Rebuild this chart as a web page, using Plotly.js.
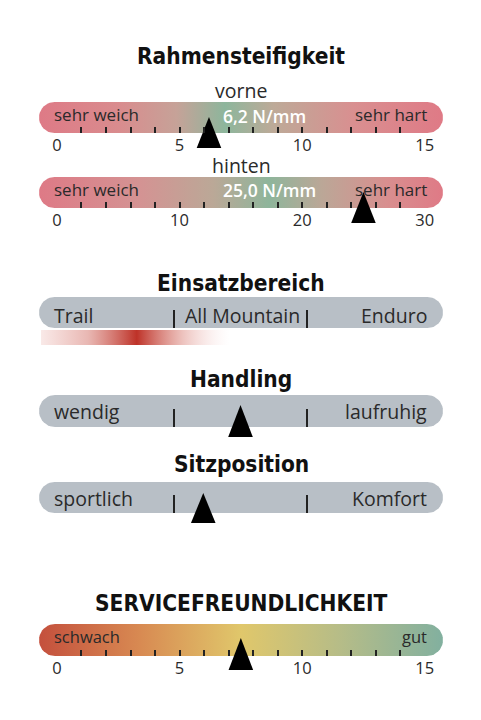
<!DOCTYPE html>
<html><head><meta charset="utf-8">
<script src="https://cdn.plot.ly/plotly-3.0.1.min.js"></script>
<style>html,body{margin:0;padding:0;background:#fff}</style>
</head><body><div id="chart" style="width:481px;height:720px"></div>
<script>
// ---------- data ----------
const stiffnessParts = ['vorne', 'hinten'];
const stiffnessValues = [6.2, 25.0];          // N/mm
const stiffnessMax = [15, 30];
const stiffnessMajor = [5, 10];
const stiffnessMinor = [1, 2];
const stiffnessEnds = ['sehr weich', 'sehr hart'];
const stiffnessUnit = 'N/mm';

const useCategories = ['Trail', 'All Mountain', 'Enduro'];
const useGlow = [0, 0.72, 1.42];             // start, peak, end on the category scale (0..3)

const handlingEnds = ['wendig', 'laufruhig'];
const handlingValue = [1.5];                 // on 0..3 scale
const seatEnds = ['sportlich', 'Komfort'];
const seatValue = [1.22];                    // on 0..3 scale

const serviceEnds = ['schwach', 'gut'];
const serviceValue = [7.5];
const serviceMax = 15;

const titles = ['Rahmensteifigkeit', 'Einsatzbereich', 'Handling', 'Sitzposition', 'SERVICEFREUNDLICHKEIT'];

// ---------- layout geometry ----------
const W = 481, H = 720;
const BAR_X0 = 39, BAR_X1 = 443;
const SCALE15 = [56.7, 425];     // pixel span of numeric scales
const CAT = [41, 440];           // pixel span of 3-zone scales
const TITLE_FONT = 'Liberation Sans Narrow, DejaVu Sans Condensed, sans-serif';
const BODY_FONT = 'Open Sans, Liberation Sans, sans-serif';
const TXT = '#2a2a2a';

function pill(x0, x1, y0, y1) {
  const r = (y1 - y0) / 2, cy = (y0 + y1) / 2, n = 20;
  const xs = [], ys = [];
  for (let i = 0; i <= n; i++) { const a = -Math.PI / 2 + Math.PI * i / n; xs.push(x1 - r + r * Math.cos(a)); ys.push(cy + r * Math.sin(a)); }
  for (let i = 0; i <= n; i++) { const a = Math.PI / 2 + Math.PI * i / n; xs.push(x0 + r + r * Math.cos(a)); ys.push(cy + r * Math.sin(a)); }
  xs.push(xs[0]); ys.push(ys[0]);
  return { xs, ys };
}
function barTrace(y0, y1, fill) {
  const p = pill(BAR_X0, BAR_X1, y0, y1);
  const t = { type: 'scatter', mode: 'lines', x: p.xs, y: p.ys, xaxis: 'x', yaxis: 'y', fill: 'toself',
    line: { width: 0 }, hoverinfo: 'skip', showlegend: false };
  if (Array.isArray(fill)) t.fillgradient = { type: 'horizontal', colorscale: fill };
  else t.fillcolor = fill;
  return t;
}
function triangle(axisId, value, pxSpan, range, apexY, baseY) {
  const unitsPerPx = (range[1] - range[0]) / (pxSpan[1] - pxSpan[0]);
  const hw = 12.3 * unitsPerPx;
  return { type: 'scatter', mode: 'lines', xaxis: axisId, yaxis: 'y',
    x: [value - hw, value, value + hw, value - hw], y: [baseY, apexY, baseY, baseY],
    fill: 'toself', fillcolor: '#000', line: { width: 0 }, hoverinfo: 'skip', showlegend: false };
}
function scaleAxis(pxSpan, range, bottomPx, extra) {
  return Object.assign({
    domain: [pxSpan[0] / W, pxSpan[1] / W], range: range, anchor: 'free', position: 1 - bottomPx / H,
    showgrid: false, zeroline: false, showline: false, ticks: 'inside', tickcolor: '#222', tickwidth: 2,
    fixedrange: true, tickfont: { family: BODY_FONT, size: 16.5, color: TXT }
  }, extra);
}

const stiffGradFront = [[0, '#de7a86'], [0.2, '#d98c8e'], [0.34, '#c6a298'], [0.46, '#8db69c'], [0.58, '#bdaa98'], [0.78, '#d98f90'], [1, '#df7a86']];
const stiffGradRear = [[0, '#de7a86'], [0.25, '#d49393'], [0.43, '#bba897'], [0.57, '#8eb59b'], [0.7, '#bba797'], [0.86, '#d88f8f'], [1, '#df7a86']];
const serviceGrad = [[0, '#c4503d'], [0.25, '#d88a52'], [0.5, '#e0c76b'], [0.75, '#b5bc88'], [1, '#82b09f']];
const GRAY = '#b8bfc6';

const r15 = [-0.01, serviceMax + 0.01];
const rRear = [-0.02, stiffnessMax[1] + 0.02];
const rCat = [0, 3];

const traces = [
  barTrace(102, 133, stiffGradFront),
  barTrace(177, 208, stiffGradRear),
  barTrace(297, 328, GRAY),
  barTrace(395, 427, GRAY),
  barTrace(482, 513, GRAY),
  barTrace(624, 656, serviceGrad),
  // usage glow
  { type: 'scatter', mode: 'lines', xaxis: 'x4', yaxis: 'y',
    x: [useGlow[0], useGlow[2], useGlow[2], useGlow[0], useGlow[0]], y: [330, 330, 345, 345, 330],
    fill: 'toself', line: { width: 0 }, hoverinfo: 'skip', showlegend: false,
    fillgradient: { type: 'horizontal', colorscale: [
      [0, 'rgba(215,110,100,0.15)'], [0.25, 'rgba(205,95,85,0.45)'],
      [(useGlow[1] - useGlow[0]) / (useGlow[2] - useGlow[0]), 'rgba(190,50,40,1)'],
      [0.75, 'rgba(215,120,110,0.45)'], [1, 'rgba(245,210,210,0)']] } },
  triangle('x2', stiffnessValues[0], SCALE15, [0, stiffnessMax[0]], 117, 148),
  triangle('x3', stiffnessValues[1], SCALE15, [0, stiffnessMax[1]], 192, 223),
  triangle('x5', handlingValue[0], CAT, rCat, 405, 437),
  triangle('x6', seatValue[0], CAT, rCat, 493, 523),
  triangle('x7', serviceValue[0], SCALE15, [0, serviceMax], 638, 670)
];

function ann(text, x, y, xanchor, size, opts) {
  return Object.assign({ text: text, x: x, y: y, xref: 'x', yref: 'y', xanchor: xanchor, yanchor: 'middle',
    showarrow: false, font: { family: BODY_FONT, size: size, color: TXT } }, opts || {});
}
function titleAnn(text, y) {
  return ann(text, 241, y, 'center', 22.5, { font: { family: TITLE_FONT, size: 22.5, color: '#111', weight: 700 } });
}
const fmt = v => v.toFixed(1).replace('.', ',') + ' ' + stiffnessUnit;
const white = size => ({ font: { family: BODY_FONT, size: size, color: '#fff', weight: 600 } });

const annotations = [
  titleAnn(titles[0], 56),
  ann(stiffnessParts[0], 241, 90, 'center', 19.5),
  ann(stiffnessEnds[0], 52, 114.5, 'left', 17),
  ann(stiffnessEnds[1], 429, 114.5, 'right', 17),
  ann(fmt(stiffnessValues[0]), 264, 115.5, 'center', 17.5, white(17.5)),
  ann(stiffnessParts[1], 241, 165, 'center', 19.5),
  ann(stiffnessEnds[0], 52, 189.5, 'left', 17),
  ann(stiffnessEnds[1], 429, 189.5, 'right', 17),
  ann(fmt(stiffnessValues[1]), 269, 189.5, 'center', 17.5, white(17.5)),
  titleAnn(titles[1], 283),
  ann(useCategories[0], 52, 315, 'left', 19.5),
  ann(useCategories[1], 183, 315, 'left', 19.5),
  ann(useCategories[2], 429, 315, 'right', 19.5),
  titleAnn(titles[2], 379),
  ann(handlingEnds[0], 52, 411.5, 'left', 19.5),
  ann(handlingEnds[1], 429, 411.5, 'right', 19.5),
  titleAnn(titles[3], 464),
  ann(seatEnds[0], 52, 498.5, 'left', 19.5),
  ann(seatEnds[1], 429, 498.5, 'right', 19.5),
  titleAnn(titles[4], 603),
  ann(serviceEnds[0], 52, 636, 'left', 16.5),
  ann(serviceEnds[1], 429, 636, 'right', 16.5)
];

const hidden = { visible: false, fixedrange: true };
const layout = {
  width: W, height: H, margin: { l: 0, r: 0, t: 0, b: 0, pad: 0 },
  paper_bgcolor: '#fff', plot_bgcolor: 'rgba(0,0,0,0)', showlegend: false,
  xaxis: Object.assign({ domain: [0, 1], range: [0, W], anchor: 'y' }, hidden),
  yaxis: Object.assign({ domain: [0, 1], range: [H, 0], anchor: 'x' }, hidden),
  xaxis2: scaleAxis(SCALE15, r15, 133, { tickmode: 'linear', tick0: 0, dtick: stiffnessMajor[0], ticklen: 6,
    minor: { dtick: stiffnessMinor[0], ticks: 'inside', ticklen: 6, tickwidth: 2, tickcolor: '#222', showgrid: false } }),
  xaxis3: scaleAxis(SCALE15, rRear, 208, { tickmode: 'linear', tick0: 0, dtick: stiffnessMajor[1], ticklen: 6,
    minor: { dtick: stiffnessMinor[1], ticks: 'inside', ticklen: 6, tickwidth: 2, tickcolor: '#222', showgrid: false } }),
  xaxis4: scaleAxis(CAT, rCat, 328, { tickmode: 'array', tickvals: [1, 2], ticklen: 18, showticklabels: false }),
  xaxis5: scaleAxis(CAT, rCat, 427, { tickmode: 'array', tickvals: [1, 2], ticklen: 18, showticklabels: false }),
  xaxis6: scaleAxis(CAT, rCat, 513, { tickmode: 'array', tickvals: [1, 2], ticklen: 18, showticklabels: false }),
  xaxis7: scaleAxis(SCALE15, r15, 656, { tickmode: 'linear', tick0: 0, dtick: 5, ticklen: 6,
    minor: { dtick: 1, ticks: 'inside', ticklen: 6, tickwidth: 2, tickcolor: '#222', showgrid: false } }),
  annotations: annotations
};

Plotly.newPlot('chart', traces, layout, { staticPlot: true, displayModeBar: false });
</script></body></html>
